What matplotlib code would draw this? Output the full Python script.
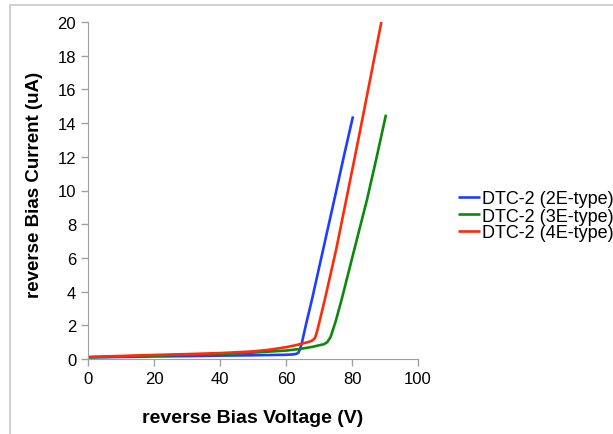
import matplotlib.pyplot as plt
from matplotlib.patches import Rectangle

plt.rcParams['font.family'] = ['Liberation Sans', 'DejaVu Sans']

# Tensão reversa (V) e corrente (uA)
v_2e = [0, 10, 20, 30, 40, 50, 60, 62, 63, 63.7, 64.2, 64.8, 66, 67.9, 71.6, 74.8, 77.5, 80.3]
i_2e = [0.1, 0.12, 0.15, 0.17, 0.2, 0.22, 0.25, 0.27, 0.3, 0.36, 0.55, 0.95, 2.0, 3.56, 6.8, 9.6, 12.0, 14.4]

v_3e = [0, 10, 20, 30, 40, 50, 60, 64, 68, 71.5, 72.5, 73.5, 75, 76.9, 80.7, 84.6, 87.5, 90.3]
i_3e = [0.1, 0.15, 0.2, 0.25, 0.3, 0.38, 0.5, 0.59, 0.72, 0.88, 1.0, 1.3, 2.2, 3.56, 6.5, 9.5, 12.0, 14.5]

v_4e = [0, 10, 20, 30, 40, 50, 55, 60, 63, 65, 67, 68, 68.8, 69.5, 71.8, 75.2, 78.3, 82, 85.5, 88.9]
i_4e = [0.12, 0.18, 0.24, 0.29, 0.35, 0.45, 0.55, 0.7, 0.82, 0.92, 1.02, 1.1, 1.25, 1.7, 3.56, 6.5, 9.5, 13.1, 16.6, 20.0]

series = [
    ('DTC-2 (2E-type)', v_2e, i_2e, '#1f3dff'),
    ('DTC-2 (3E-type)', v_3e, i_3e, '#0a8a0a'),
    ('DTC-2 (4E-type)', v_4e, i_4e, '#ff2a0a'),
]

fig = plt.figure(figsize=(6.13, 4.35), dpi=100)
# Moldura cinza em volta do gráfico
fig.patches.append(Rectangle((10 / 613, -0.1), 1.2, 1.1 - 6 / 435, transform=fig.transFigure,
                             fill=False, edgecolor='#c8c8c8', linewidth=1.2))
ax = fig.add_axes([88 / 613, 75 / 435, 330 / 613, 337 / 435])

for nome, v, i, cor in series:
    ax.plot(v, i, color=cor, linewidth=1.9, label=nome, solid_capstyle='butt', solid_joinstyle='round')

ax.set_xlim(0, 100)
ax.set_ylim(0, 20)
ax.set_xticks(range(0, 101, 20))
ax.set_yticks(range(0, 21, 2))
ax.tick_params(labelsize=12, color='#a0a0a0', length=5, width=1, direction='out')
for lado in ['top', 'right']:
    ax.spines[lado].set_visible(False)
for lado in ['left', 'bottom']:
    ax.spines[lado].set_color('#a0a0a0')
ax.set_xlabel('reverse Bias Voltage (V)', fontsize=14, fontweight='bold', labelpad=17)
ax.set_ylabel('reverse Bias Current (uA)', fontsize=13.5, fontweight='bold', labelpad=7)
ax.yaxis.set_label_coords(-0.135, 0.52)

fig.legend(loc='center left', bbox_to_anchor=(449 / 613, 1 - 217 / 435), frameon=False,
           fontsize=13, handlelength=1.2, handletextpad=0.1, labelspacing=0.0, borderpad=0)

fig.savefig('out.png', dpi=100)
